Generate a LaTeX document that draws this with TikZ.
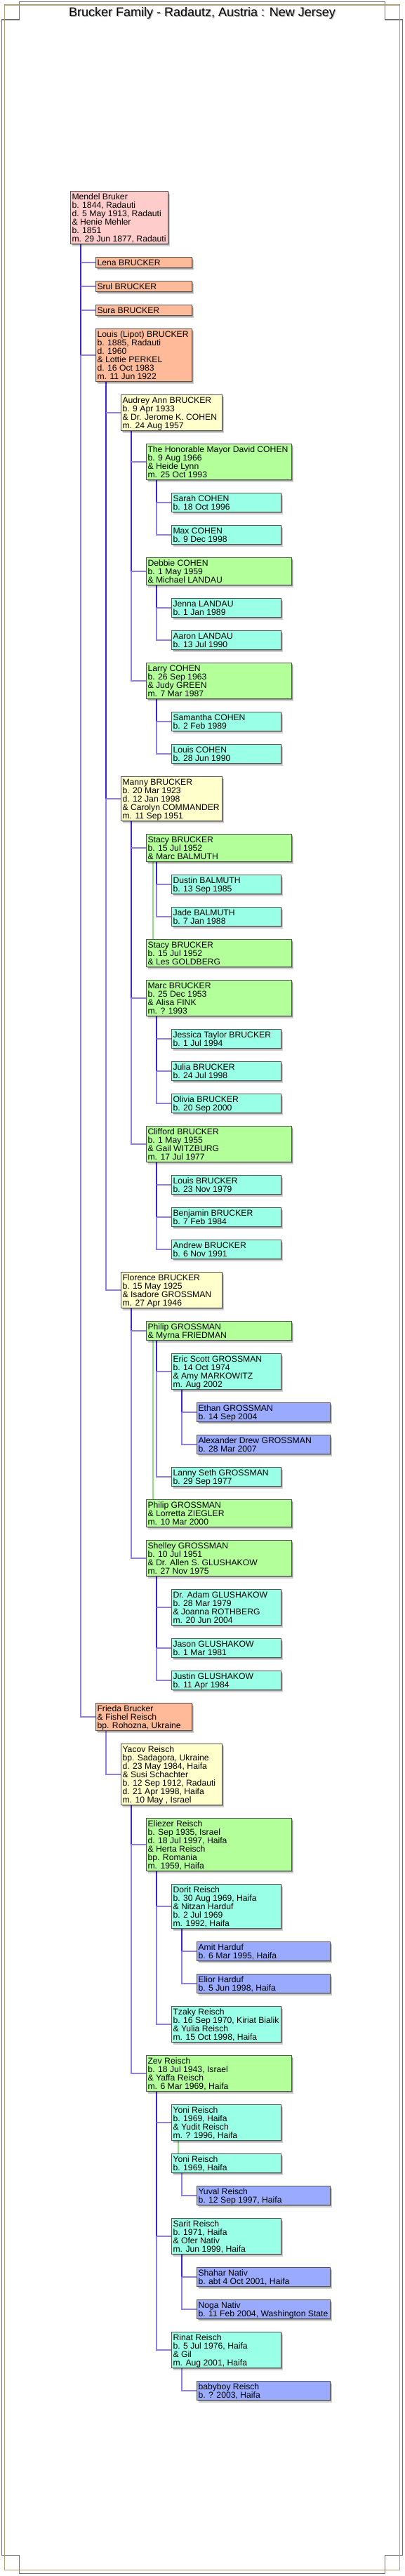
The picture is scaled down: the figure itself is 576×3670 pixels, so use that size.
\documentclass[tikz,border=0pt]{standalone}
\usepackage{fontspec}
\setmainfont{Liberation Sans}
\usetikzlibrary{shadows}
\pgfdeclarelayer{background}
\pgfsetlayers{background,main}
\definecolor{boxborder}{RGB}{85,85,85}
\definecolor{c0}{RGB}{255,204,204}
\definecolor{c1}{RGB}{255,187,153}
\definecolor{c2}{RGB}{255,255,204}
\definecolor{c3}{RGB}{179,255,153}
\definecolor{c4}{RGB}{153,255,230}
\definecolor{c5}{RGB}{153,170,255}
\definecolor{dkc}{RGB}{62,36,214}
\definecolor{ltc}{RGB}{142,126,230}
\definecolor{dupc}{RGB}{140,224,128}
\definecolor{framegray}{RGB}{112,112,112}
\definecolor{frametan}{RGB}{176,160,122}
\newcommand\boxsetup{\rightskip=0pt plus 1fil minus 40pt\spaceskip=0pt\xspaceskip=0pt\hyphenpenalty=10000\relax}
\newcommand\famlines[3]{%
  \coordinate (#1v) at ([xshift=15pt]#1.south west);
  \draw[dkln] (#1v) -- (#1v |- #2.west);
  \draw[ltln] (#1v |- #2.west) |- (#3.west);}
\newcommand\sololine[2]{%
  \coordinate (#1v) at ([xshift=15pt]#1.south west);
  \draw[ltln] (#1v) |- (#2.west);}
\newcommand\kidline[2]{\draw[ltln] (#1v |- #2.west) -- (#2.west);}
\tikzset{
  pbox/.style={draw=boxborder, line width=0.9pt, anchor=north west,
    inner xsep=2.5pt, inner ysep=1.5pt, outer sep=0pt, align=left,
    font=\fontsize{12.2pt}{12pt}\selectfont, text height=10pt,
    execute at begin node=\boxsetup,
    drop shadow={shadow xshift=1.5pt,shadow yshift=-1.5pt,opacity=0.3,fill=black},
    drop shadow={shadow xshift=2.8pt,shadow yshift=-2.8pt,opacity=0.18,fill=black}},
  g0/.style={pbox, fill=c0, text width=134pt},
  g1/.style={pbox, fill=c1, text width=132.3pt},
  g2/.style={pbox, fill=c2, text width=139pt},
  g3/.style={pbox, fill=c3, text width=202.3pt},
  g4/.style={pbox, fill=c4, text width=151pt},
  g5/.style={pbox, fill=c5, text width=185pt},
  n1/.style={text depth=2pt},
  n2/.style={text depth=14pt},
  n3/.style={text depth=26pt},
  n4/.style={text depth=38pt},
  n5/.style={text depth=50pt},
  n6/.style={text depth=62pt},
  n7/.style={text depth=74pt},
  dkln/.style={draw=dkc, line width=1.6pt},
  ltln/.style={draw=ltc, line width=1.6pt},
  dupln/.style={draw=dupc, line width=1.5pt},
  titlefont/.style={font=\fontsize{18pt}{20pt}\selectfont, anchor=base, inner sep=0pt}
}
\begin{document}
\begin{tikzpicture}[x=1pt,y=-1pt]
\useasboundingbox (0,0) rectangle (576,3670);
% frame
\draw[framegray, line width=1.4pt] (2.2,28) -- (27.6,28) -- (27.6,2.2) -- (548.2,2.2) -- (548.2,28) -- (573.6,28)
  -- (573.6,3640.7) -- (548.2,3640.7) -- (548.2,3666.7) -- (27.6,3666.7) -- (27.6,3640.7) -- (2.2,3640.7) -- cycle;
\draw[frametan, line width=1.4pt] (6.7,6.8) rectangle (569.2,3661.2);
% title
\node[titlefont, text=black!40, opacity=0.7] (titleshadow) at (289.3,24.6) {Brucker Family - Radautz, Austria : New Jersey};
\node[titlefont] (title) at (288,23.3) {Brucker Family - Radautz, Austria : New Jersey};
% people
\node[g0,n6] (mendel) at (100,272.7) {Mendel Bruker\\b. 1844, Radauti\\d. 5 May 1913, Radauti\\\& Henie Mehler\\b. 1851\\m. 29 Jun 1877, Radauti};
\node[g1,n1] (lena) at (136,366.7) {Lena BRUCKER};
\node[g1,n1] (srul) at (136,400.7) {Srul BRUCKER};
\node[g1,n1] (sura) at (136,434.7) {Sura BRUCKER};
\node[g1,n6] (louis) at (136,468.7) {Louis (Lipot) BRUCKER\\b. 1885, Radauti\\d. 1960\\\& Lottie PERKEL\\d. 16 Oct 1983\\m. 11 Jun 1922};
\node[g2,n4] (audrey) at (172,562.7) {Audrey Ann BRUCKER\\b. 9 Apr 1933\\\& Dr. Jerome K. COHEN\\m. 24 Aug 1957};
\node[g3,n4] (david) at (208,632.7) {The Honorable Mayor David COHEN\\b. 9 Aug 1966\\\& Heide Lynn\\m. 25 Oct 1993};
\node[g4,n2] (sarah) at (244,702.7) {Sarah COHEN\\b. 18 Oct 1996};
\node[g4,n2] (max) at (244,748.7) {Max COHEN\\b. 9 Dec 1998};
\node[g3,n3] (debbie) at (208,794.7) {Debbie COHEN\\b. 1 May 1959\\\& Michael LANDAU};
\node[g4,n2] (jenna) at (244,852.7) {Jenna LANDAU\\b. 1 Jan 1989};
\node[g4,n2] (aaron) at (244,898.7) {Aaron LANDAU\\b. 13 Jul 1990};
\node[g3,n4] (larry) at (208,944.7) {Larry COHEN\\b. 26 Sep 1963\\\& Judy GREEN\\m. 7 Mar 1987};
\node[g4,n2] (samantha) at (244,1014.7) {Samantha COHEN\\b. 2 Feb 1989};
\node[g4,n2] (louisc) at (244,1060.7) {Louis COHEN\\b. 28 Jun 1990};
\node[g2,n5] (manny) at (172,1106.7) {Manny BRUCKER\\b. 20 Mar 1923\\d. 12 Jan 1998\\\& Carolyn COMMANDER\\m. 11 Sep 1951};
\node[g3,n3] (stacya) at (208,1188.7) {Stacy BRUCKER\\b. 15 Jul 1952\\\& Marc BALMUTH};
\node[g4,n2] (dustin) at (244,1246.7) {Dustin BALMUTH\\b. 13 Sep 1985};
\node[g4,n2] (jade) at (244,1292.7) {Jade BALMUTH\\b. 7 Jan 1988};
\node[g3,n3] (stacyb) at (208,1338.7) {Stacy BRUCKER\\b. 15 Jul 1952\\\& Les GOLDBERG};
\node[g3,n4] (marc) at (208,1396.7) {Marc BRUCKER\\b. 25 Dec 1953\\\& Alisa FINK\\m. ? 1993};
\node[g4,n2] (jessica) at (244,1466.7) {Jessica Taylor BRUCKER\\b. 1 Jul 1994};
\node[g4,n2] (julia) at (244,1512.7) {Julia BRUCKER\\b. 24 Jul 1998};
\node[g4,n2] (olivia) at (244,1558.7) {Olivia BRUCKER\\b. 20 Sep 2000};
\node[g3,n4] (clifford) at (208,1604.7) {Clifford BRUCKER\\b. 1 May 1955\\\& Gail WITZBURG\\m. 17 Jul 1977};
\node[g4,n2] (louisb) at (244,1674.7) {Louis BRUCKER\\b. 23 Nov 1979};
\node[g4,n2] (benjamin) at (244,1720.7) {Benjamin BRUCKER\\b. 7 Feb 1984};
\node[g4,n2] (andrew) at (244,1766.7) {Andrew BRUCKER\\b. 6 Nov 1991};
\node[g2,n4] (florence) at (172,1812.7) {Florence BRUCKER\\b. 15 May 1925\\\& Isadore GROSSMAN\\m. 27 Apr 1946};
\node[g3,n2] (philipa) at (208,1882.7) {Philip GROSSMAN\\\& Myrna FRIEDMAN};
\node[g4,n4] (eric) at (244,1928.7) {Eric Scott GROSSMAN\\b. 14 Oct 1974\\\& Amy MARKOWITZ\\m. Aug 2002};
\node[g5,n2] (ethan) at (280,1998.7) {Ethan GROSSMAN\\b. 14 Sep 2004};
\node[g5,n2] (alexander) at (280,2044.7) {Alexander Drew GROSSMAN\\b. 28 Mar 2007};
\node[g4,n2] (lanny) at (244,2090.7) {Lanny Seth GROSSMAN\\b. 29 Sep 1977};
\node[g3,n3] (philipb) at (208,2136.7) {Philip GROSSMAN\\\& Lorretta ZIEGLER\\m. 10 Mar 2000};
\node[g3,n4] (shelley) at (208,2194.7) {Shelley GROSSMAN\\b. 10 Jul 1951\\\& Dr. Allen S. GLUSHAKOW\\m. 27 Nov 1975};
\node[g4,n4] (adam) at (244,2264.7) {Dr. Adam GLUSHAKOW\\b. 28 Mar 1979\\\& Joanna ROTHBERG\\m. 20 Jun 2004};
\node[g4,n2] (jason) at (244,2334.7) {Jason GLUSHAKOW\\b. 1 Mar 1981};
\node[g4,n2] (justin) at (244,2380.7) {Justin GLUSHAKOW\\b. 11 Apr 1984};
\node[g1,n3] (frieda) at (136,2426.7) {Frieda Brucker\\\& Fishel Reisch\\bp. Rohozna, Ukraine};
\node[g2,n7] (yacov) at (172,2484.7) {Yacov Reisch\\bp. Sadagora, Ukraine\\d. 23 May 1984, Haifa\\\& Susi Schachter\\b. 12 Sep 1912, Radauti\\d. 21 Apr 1998, Haifa\\m. 10 May , Israel};
\node[g3,n6] (eliezer) at (208,2590.7) {Eliezer Reisch\\b. Sep 1935, Israel\\d. 18 Jul 1997, Haifa\\\& Herta Reisch\\bp. Romania\\m. 1959, Haifa};
\node[g4,n5] (dorit) at (244,2684.7) {Dorit Reisch\\b. 30 Aug 1969, Haifa\\\& Nitzan Harduf\\b. 2 Jul 1969\\m. 1992, Haifa};
\node[g5,n2] (amit) at (280,2766.7) {Amit Harduf\\b. 6 Mar 1995, Haifa};
\node[g5,n2] (elior) at (280,2812.7) {Elior Harduf\\b. 5 Jun 1998, Haifa};
\node[g4,n4] (tzaky) at (244,2858.7) {Tzaky Reisch\\b. 16 Sep 1970, Kiriat Bialik\\\& Yulia Reisch\\m. 15 Oct 1998, Haifa};
\node[g3,n4] (zev) at (208,2928.7) {Zev Reisch\\b. 18 Jul 1943, Israel\\\& Yaffa Reisch\\m. 6 Mar 1969, Haifa};
\node[g4,n4] (yonia) at (244,2998.7) {Yoni Reisch\\b. 1969, Haifa\\\& Yudit Reisch\\m. ? 1996, Haifa};
\node[g4,n2] (yonib) at (244,3068.7) {Yoni Reisch\\b. 1969, Haifa};
\node[g5,n2] (yuval) at (280,3114.7) {Yuval Reisch\\b. 12 Sep 1997, Haifa};
\node[g4,n4] (sarit) at (244,3160.7) {Sarit Reisch\\b. 1971, Haifa\\\& Ofer Nativ\\m. Jun 1999, Haifa};
\node[g5,n2] (shahar) at (280,3230.7) {Shahar Nativ\\b. abt 4 Oct 2001, Haifa};
\node[g5,n2] (noga) at (280,3276.7) {Noga Nativ\\b. 11 Feb 2004, Washington State};
\node[g4,n4] (rinat) at (244,3322.7) {Rinat Reisch\\b. 5 Jul 1976, Haifa\\\& Gil\\m. Aug 2001, Haifa};
\node[g5,n2] (babyboy) at (280,3392.7) {babyboy Reisch\\b. ? 2003, Haifa};
% connectors
\begin{pgfonlayer}{background}
\famlines{mendel}{louis}{frieda}
\kidline{mendel}{lena}\kidline{mendel}{srul}\kidline{mendel}{sura}\kidline{mendel}{louis}
\famlines{louis}{manny}{florence}
\kidline{louis}{audrey}\kidline{louis}{manny}
\famlines{audrey}{debbie}{larry}
\kidline{audrey}{david}\kidline{audrey}{debbie}
\famlines{david}{sarah}{max}
\kidline{david}{sarah}
\famlines{debbie}{jenna}{aaron}
\kidline{debbie}{jenna}
\famlines{larry}{samantha}{louisc}
\kidline{larry}{samantha}
\famlines{manny}{marc}{clifford}
\kidline{manny}{stacya}\kidline{manny}{marc}
\famlines{stacya}{dustin}{jade}
\kidline{stacya}{dustin}
\famlines{marc}{julia}{olivia}
\kidline{marc}{jessica}\kidline{marc}{julia}
\famlines{clifford}{benjamin}{andrew}
\kidline{clifford}{louisb}\kidline{clifford}{benjamin}
\famlines{florence}{philipa}{shelley}
\kidline{florence}{philipa}
\famlines{philipa}{eric}{lanny}
\kidline{philipa}{eric}
\famlines{eric}{ethan}{alexander}
\kidline{eric}{ethan}
\famlines{shelley}{jason}{justin}
\kidline{shelley}{adam}\kidline{shelley}{jason}
\sololine{frieda}{yacov}
\famlines{yacov}{eliezer}{zev}
\kidline{yacov}{eliezer}
\famlines{eliezer}{dorit}{tzaky}
\kidline{eliezer}{dorit}
\famlines{dorit}{amit}{elior}
\kidline{dorit}{amit}
\famlines{zev}{sarit}{rinat}
\kidline{zev}{yonia}\kidline{zev}{sarit}
\sololine{yonib}{yuval}
\famlines{sarit}{shahar}{noga}
\kidline{sarit}{shahar}
\sololine{rinat}{babyboy}
% same-person links
\draw[dupln] ([xshift=10pt]stacya.south west) -- ([xshift=10pt]stacyb.north west);
\draw[dupln] ([xshift=10pt]philipa.south west) -- ([xshift=10pt]philipb.north west);
\draw[dupln] ([xshift=10pt]yonia.south west) -- ([xshift=10pt]yonib.north west);
\end{pgfonlayer}
\end{tikzpicture}
\end{document}
